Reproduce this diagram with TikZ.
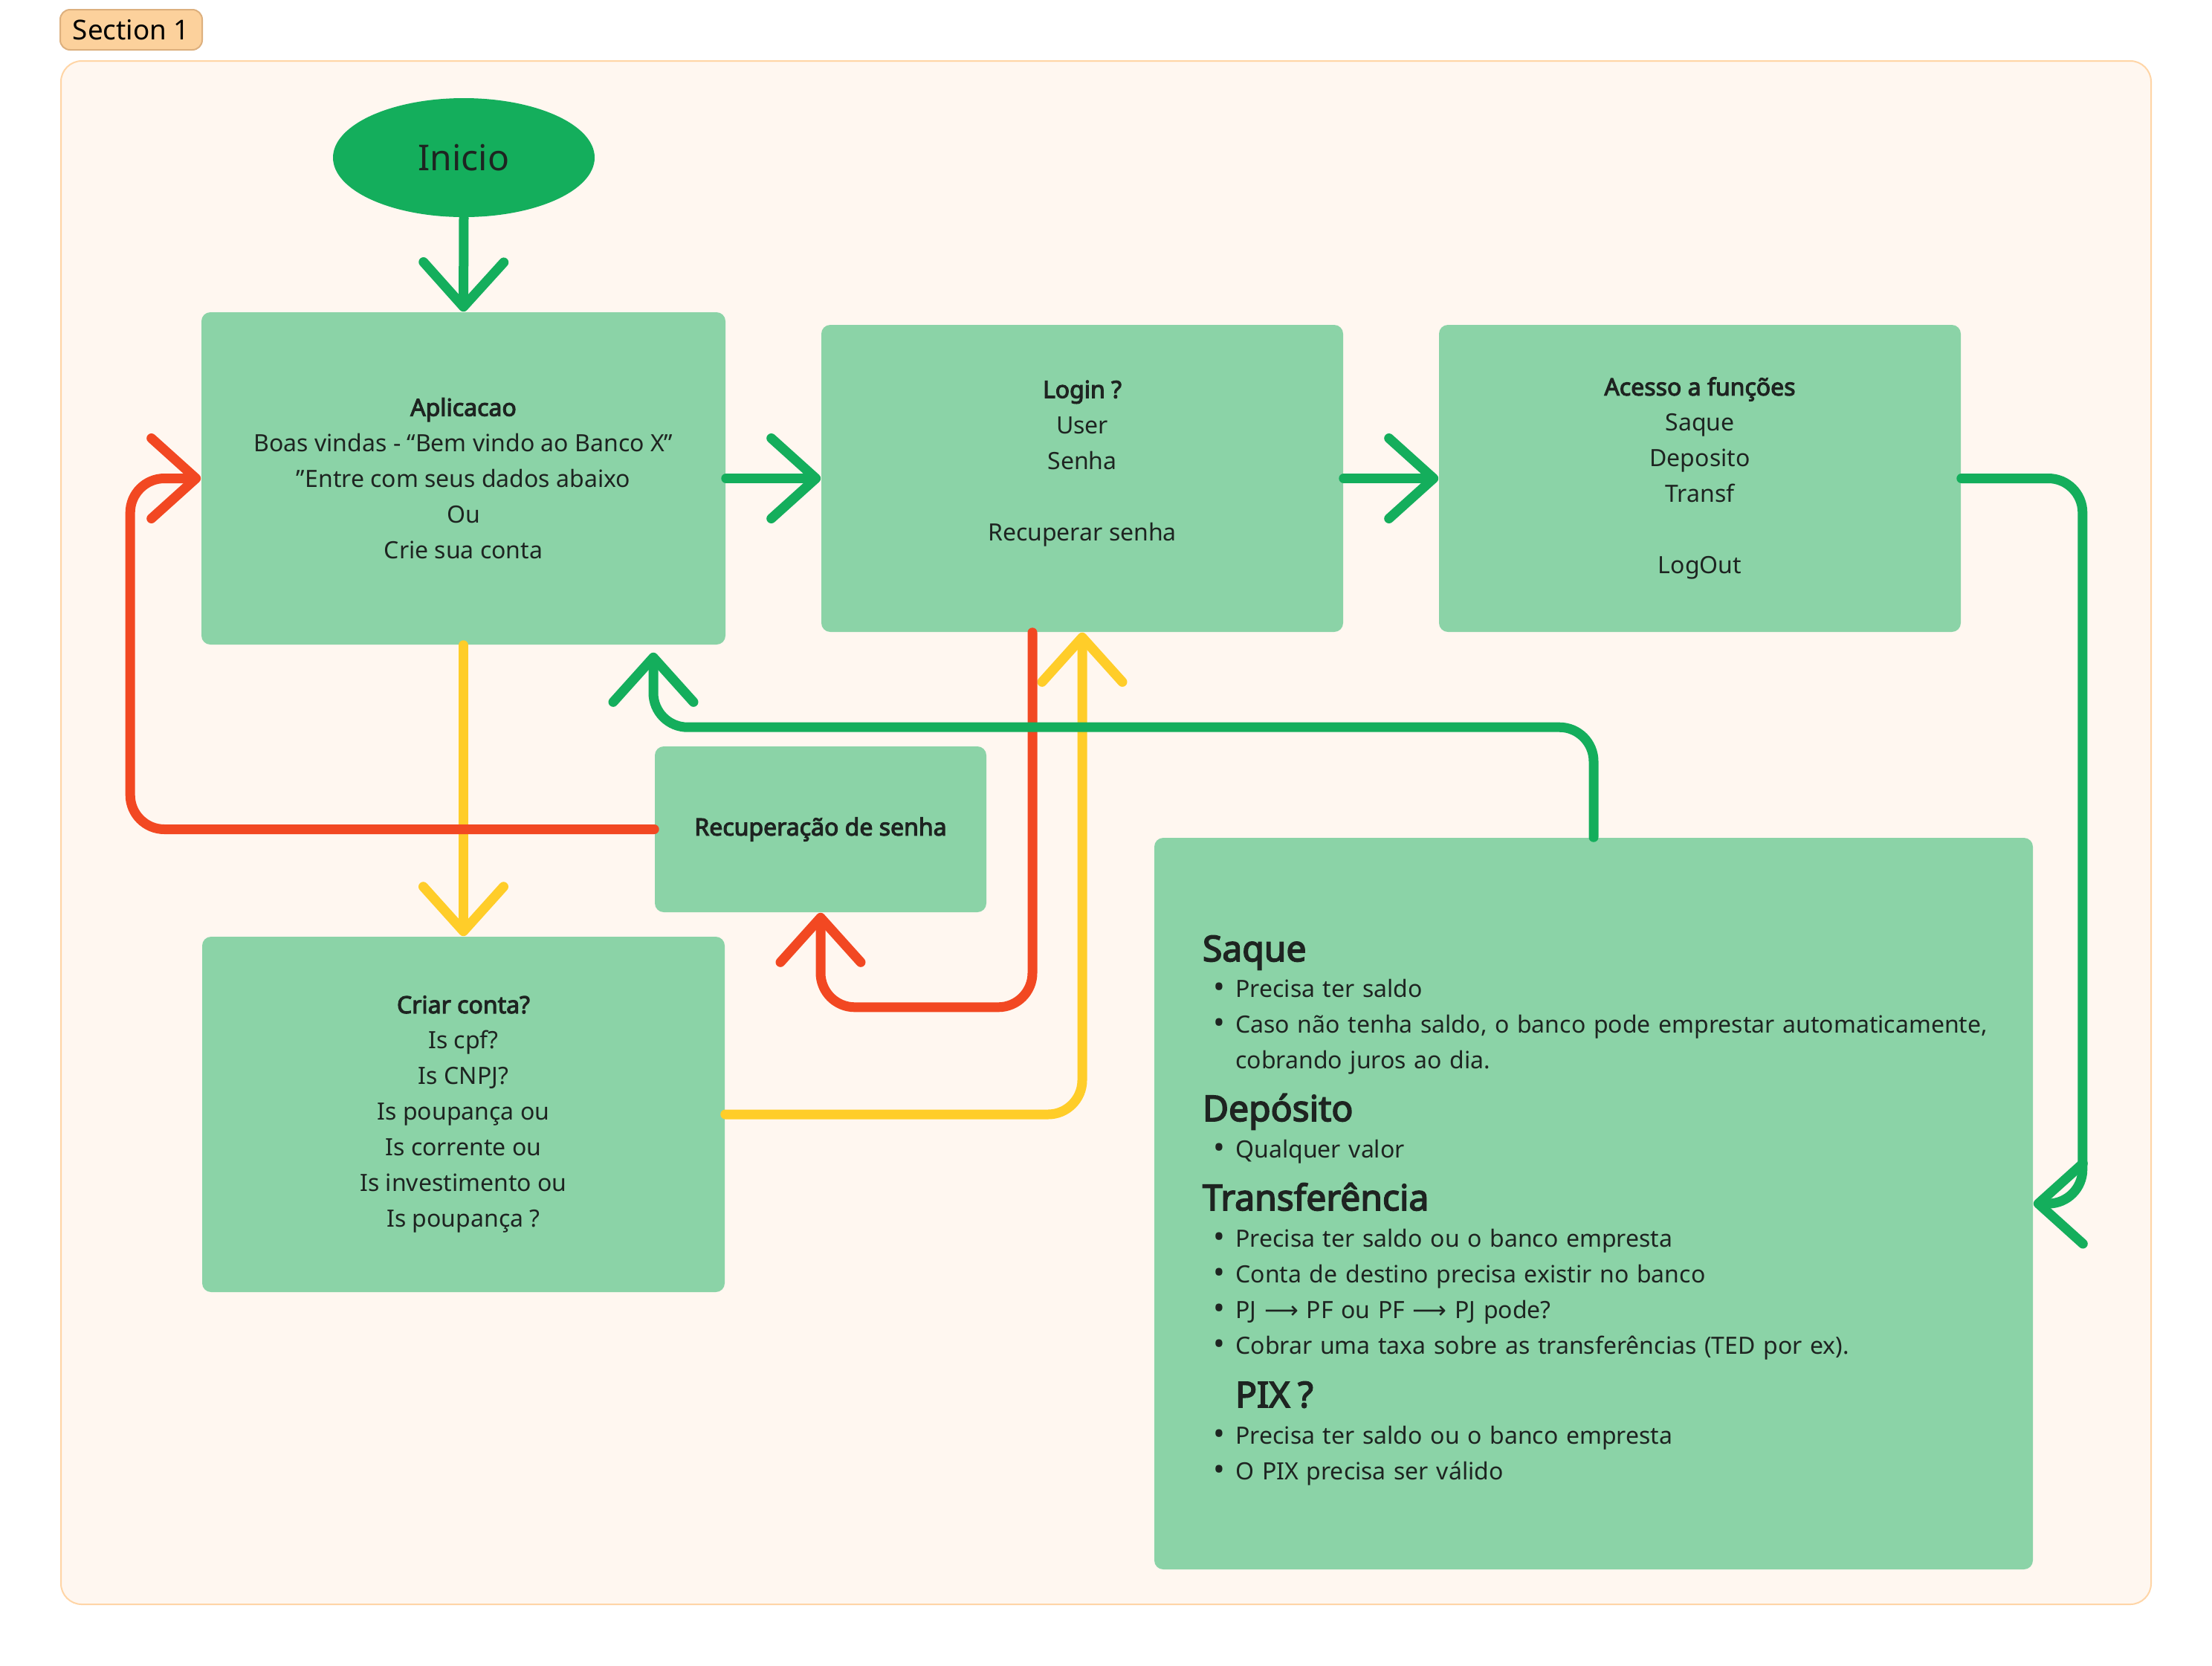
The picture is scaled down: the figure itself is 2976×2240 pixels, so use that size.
\documentclass[tikz,border=0pt]{standalone}
\usepackage{fontspec}
\setmainfont{Noto Sans}[BoldFont={Noto Sans}, BoldFeatures={FakeBold=3.4}]
\newfontfamily\arrowfont{DejaVu Sans}
\usetikzlibrary{arrows.meta,shapes.geometric}
\definecolor{framefill}{HTML}{FFF7F0}
\definecolor{framedraw}{HTML}{FFD5A6}
\definecolor{labelfill}{HTML}{FCD19C}
\definecolor{labeldraw}{HTML}{DDB07E}
\definecolor{boxfill}{HTML}{8BD3A7}
\definecolor{dgreen}{HTML}{14AE5C}
\definecolor{cred}{HTML}{F24822}
\definecolor{cyellow}{HTML}{FFCD29}
\definecolor{txt}{HTML}{1E2421}
\newcommand\bighead[2]{\fontsize{12pt}{#1}\selectfont\bfseries\mbox{#2}\par}
\newcommand\bigbullet{\makebox[7.5pt][l]{\raisebox{-0.3pt}{\fontsize{10.5pt}{12pt}\selectfont\textbullet}}}
\newcommand\bigitem[2]{\fontsize{8pt}{#1}\selectfont\mdseries\hspace*{3.6pt}\bigbullet\mbox{#2}\par}
\newcommand\bigcont[2]{\fontsize{8pt}{#1}\selectfont\mdseries\hspace*{11.1pt}\mbox{#2}\par}
\tikzset{
  box/.style={fill=boxfill, rounded corners=3pt, inner sep=0pt, align=center,
    text=txt, font=\fontsize{8pt}{12pt}\selectfont},
  conn/.style={line width=3.25pt, line cap=round, line join=round,
    rounded corners=11.5pt, -{Straight Barb[length=15pt,width=27pt,round]}},
  gconn/.style={conn, draw=dgreen},
  rconn/.style={conn, draw=cred},
  yconn/.style={conn, draw=cyellow},
}
\begin{document}
\begin{tikzpicture}[x=0.25pt,y=-0.25pt]
\useasboundingbox (0,0) rectangle (2976,2240);
\fill[white] (0,0) rectangle (2976,2240);
% section frame
\draw[draw=framedraw, fill=framefill, line width=0.5pt, rounded corners=7pt] (82,82) rectangle (2894,2158);
\node[fill=labelfill, draw=labeldraw, line width=0.5pt, rounded corners=3.3pt,
  minimum width=47.75pt, minimum height=13.5pt, inner sep=0pt,
  font=\fontsize{9.2pt}{11pt}\selectfont] (seclabel) at (176.5,40) {Section 1};
% nodes
\node[ellipse, fill=dgreen, minimum width=88pt, minimum height=40pt, inner sep=0pt,
  text=txt, font=\fontsize{12pt}{14pt}\selectfont] (inicio) at (624,212) {Inicio};
\node[box, minimum width=176.25pt, minimum height=111.75pt] (aplic) at (623.5,643.5)
  {\textbf{Aplicacao}\\Boas vindas - “Bem vindo ao Banco X”\\”Entre com seus dados abaixo\\Ou\\Crie sua conta};
\node[box, minimum width=175.5pt, minimum height=103.25pt] (login) at (1456,643.5)
  {\textbf{Login ?}\\User\\Senha\\~\\Recuperar senha\\~};
\node[box, minimum width=175.5pt, minimum height=103.25pt] (acesso) at (2287,643.5)
  {\textbf{Acesso a funções}\\Saque\\Deposito\\Transf\\~\\LogOut};
\node[box, minimum width=111.5pt, minimum height=55.75pt] (recup) at (1104,1115.5)
  {\textbf{Recuperação de senha}};
\node[box, minimum width=175.75pt, minimum height=119.5pt] (criar) at (623.5,1499)
  {\textbf{Criar conta?}\\Is cpf?\\Is CNPJ?\\Is poupança ou\\Is corrente ou\\Is investimento ou\\Is poupança ?};
\node[box, minimum width=295.5pt, minimum height=246pt, text width=263pt, align=left,
  inner xsep=16.25pt] (big) at (2144,1619) {%
  \bighead{12pt}{\rule{0pt}{13.2pt}Saque}
  \bigitem{12pt}{Precisa ter saldo}
  \bigitem{12pt}{Caso não tenha saldo, o banco pode emprestar automaticamente,}
  \bigcont{12pt}{cobrando juros ao dia.}
  \bighead{17.75pt}{Depósito}
  \bigitem{12.25pt}{Qualquer valor}
  \bighead{17.75pt}{Transferência}
  \bigitem{12.25pt}{Precisa ter saldo ou o banco empresta}
  \bigitem{12pt}{Conta de destino precisa existir no banco}
  \bigitem{12pt}{PJ {\arrowfont ⟶} PF ou PF {\arrowfont ⟶} PJ pode?}
  \bigitem{12pt}{Cobrar uma taxa sobre as transferências (TED por ex).}
  \bighead{18pt}{\hspace*{11pt}PIX ?}
  \bigitem{12.25pt}{Precisa ter saldo ou o banco empresta}
  \bigitem{12pt}{O PIX precisa ser válido}};
% connectors: yellow
\draw[yconn] (aplic.south) -- (criar.north);
\draw[yconn] (criar.east) -| (login.south);
% red
\draw[rconn] ([xshift=-16.75pt]login.south) -- ++(0,504) -| (recup.south);
\draw[rconn] (recup.west) -- ++(-705,0) |- (aplic.west);
% green
\draw[gconn] (inicio.south) -- (aplic.north);
\draw[gconn] (aplic.east) -- (login.west);
\draw[gconn] (login.east) -- (acesso.west);
\draw[gconn] (acesso.east) -- ++(163,0) |- (big.east);
\draw[gconn] (big.north) -- ++(0,-148) -| ([xshift=63.875pt,yshift=-2.5pt]aplic.south);
\end{tikzpicture}
\end{document}
